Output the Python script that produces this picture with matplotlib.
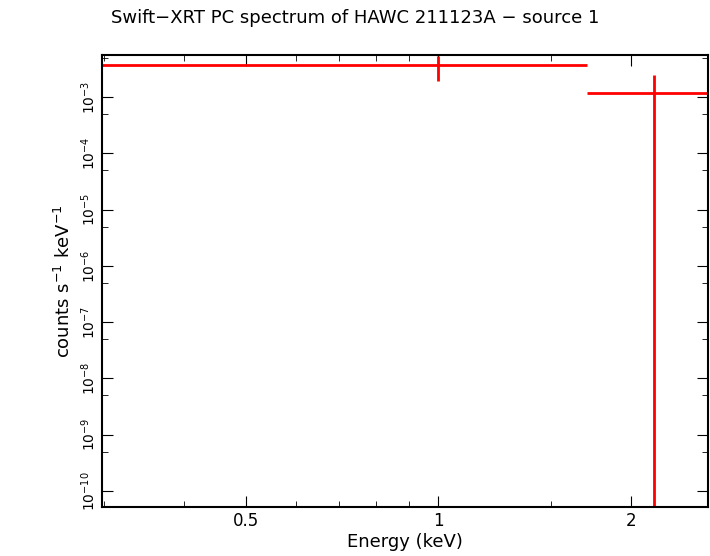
import matplotlib
matplotlib.use("Agg")
import matplotlib.pyplot as plt
from matplotlib.ticker import LogLocator, FixedLocator, NullFormatter

energy = [1.0, 2.17]
e_lo = [0.29, 1.71]
e_hi = [1.71, 3.0]
rate = [3.7e-3, 1.18e-3]
r_lo = [1.92e-3, 1e-12]
r_hi = [5.35e-3, 2.46e-3]
xticks = [0.5, 1, 2]
xticklabels = ["0.5", "1", "2"]

fig = plt.figure(figsize=(7.10, 5.56), dpi=100)
ax = fig.add_axes([102/710, 1-507/556, 606/710, 452/556])
for x, xl, xh, y, yl, yh in zip(energy, e_lo, e_hi, rate, r_lo, r_hi):
    ax.errorbar([x], [y], xerr=[[x-xl], [xh-x]], yerr=[[y-yl], [yh-y]],
                color="red", lw=2, capsize=0, fmt="none")
ax.set_xscale("log"); ax.set_yscale("log")
ax.set_xlim(0.298, 2.64); ax.set_ylim(5.2e-11, 5.6e-3)
ax.xaxis.set_major_locator(FixedLocator(xticks))
ax.set_xticklabels(xticklabels)
ax.xaxis.set_minor_locator(FixedLocator([0.3,0.4,0.6,0.7,0.8,0.9,1.5]))
ax.xaxis.set_minor_formatter(NullFormatter())
ax.yaxis.set_major_locator(LogLocator(base=10, numticks=20))
ax.yaxis.set_minor_locator(LogLocator(base=10, subs=[5], numticks=20))
ax.yaxis.set_minor_formatter(NullFormatter())
ax.tick_params(which="both", direction="in", top=True, right=True)
ax.tick_params(axis="x", labelsize=12)
ax.tick_params(axis="y", labelsize=10, labelrotation=90, pad=3)
for lab in ax.get_yticklabels():
    lab.set_verticalalignment("center")
ax.tick_params(which="major", length=8)
ax.tick_params(which="minor", length=4)
for s in ax.spines.values():
    s.set_linewidth(1.5)
ax.set_xlabel("Energy (keV)", fontsize=13, labelpad=2)
ax.set_ylabel("counts s$^{-1}$ keV$^{-1}$", fontsize=13, labelpad=4)
fig.text(0.5, 1-18/556, "Swift\u2212XRT PC spectrum of HAWC 211123A \u2212 source 1",
         ha="center", va="center", fontsize=13)
fig.savefig("out.png")
